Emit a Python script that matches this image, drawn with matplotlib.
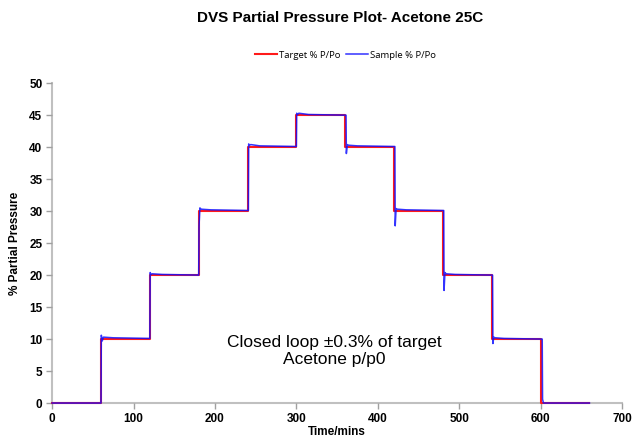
import matplotlib
matplotlib.use("Agg")
import matplotlib.pyplot as plt

# Target partial pressure set-points (step changes every 60 min)
target_time = [0, 60, 120, 180, 240, 300, 360, 420, 480, 540, 600, 660]
target_pp = [0, 10, 20, 30, 40, 45, 40, 30, 20, 10, 0, 0]

# Measured sample partial pressure
sample_time = [0, 60, 60.4, 61.5, 63, 75, 119.5,
               120, 120.4, 121.5, 123, 135, 179.5,
               180, 180.4, 181.5, 183, 195, 239.5,
               241, 241.4, 242.5, 244, 255, 299.5,
               300, 300.4, 301.5, 303, 315, 359.5,
               361, 361.4, 362.5, 364, 375, 419.5,
               421, 421.4, 422.5, 424, 435, 479.5,
               481, 481.4, 482.5, 484, 495, 539.5,
               541, 541.4, 542.5, 544, 555, 599.5,
               602, 602.4, 603.5, 660]
sample_pp = [0, 0, 10.6, 9.7, 10.3, 10.2, 10.1,
             10.1, 20.4, 20.1, 20.2, 20.1, 20.0,
             20.0, 27.6, 30.5, 30.3, 30.2, 30.1,
             30.1, 40.5, 40.3, 40.4, 40.2, 40.1,
             40.1, 45.3, 45.1, 45.3, 45.1, 45.0,
             45.0, 39.0, 40.4, 40.3, 40.2, 40.1,
             40.1, 27.7, 30.4, 30.3, 30.2, 30.1,
             30.1, 17.6, 20.4, 20.2, 20.1, 20.0,
             20.0, 9.3, 10.3, 10.2, 10.1, 10.0,
             10.0, 0.6, 0.0, 0.0]

fig = plt.figure(figsize=(6.36, 4.40), dpi=100)
ax = fig.add_axes([0.082, 0.084, 0.896, 0.727])

ax.plot(target_time, target_pp, drawstyle="steps-post", color="#ff1a1a",
        lw=1.5, label="Target % P/Po", zorder=3, clip_on=False)
ax.plot(sample_time, sample_pp, color="#1010ff", lw=1.1, alpha=0.85,
        label="Sample % P/Po", zorder=4, clip_on=False)

ax.set_xlim(0, 700)
ax.set_ylim(0, 50)
ax.set_xticks(range(0, 701, 100))
ax.set_yticks(range(0, 51, 5))

for side in ("top", "right"):
    ax.spines[side].set_visible(False)
for side in ("left", "bottom"):
    ax.spines[side].set_color("#c0c0c0")
    ax.spines[side].set_linewidth(1.5)
    ax.spines[side].set_zorder(1)
ax.tick_params(axis="both", direction="out", length=4, width=1,
               color="#a0a0a0", pad=3)
for lab in ax.get_xticklabels() + ax.get_yticklabels():
    lab.set_fontfamily("Liberation Sans")
    lab.set_fontweight("bold")
    lab.set_fontsize(8.5)

ax.set_xlabel("Time/mins", fontfamily="Liberation Sans", fontweight="bold",
              fontsize=8.5, labelpad=1)
ax.set_ylabel("% Partial Pressure", fontfamily="Liberation Sans",
              fontweight="bold", fontsize=8.5, labelpad=6)

fig.text(0.535, 0.958, "DVS Partial Pressure Plot- Acetone 25C",
         ha="center", va="center", fontfamily="Liberation Sans",
         fontweight="bold", fontsize=11)

fig.legend(loc="center", bbox_to_anchor=(0.543, 0.875), ncol=2, frameon=False,
           prop={"family": "Open Sans", "size": 6.8}, handlelength=2.3,
           handletextpad=0.2, columnspacing=0.6)

ax.text(347, 8.1, "Closed loop \u00b10.3% of target\nAcetone p/p0",
        ha="center", va="center", fontfamily="Liberation Sans", fontsize=12.5,
        linespacing=1.15)

fig.savefig("out.png", dpi=100)
